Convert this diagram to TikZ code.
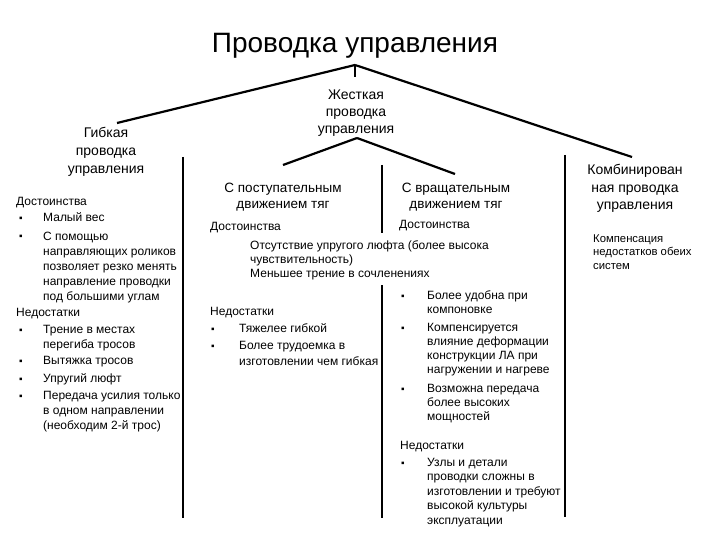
\documentclass[tikz,border=0pt]{standalone}
\usepackage{fontspec}
\setmainfont{Liberation Sans}
\begin{document}
\begin{tikzpicture}[x=1pt,y=-1pt,
  conn/.style={line width=2.2pt, black},
  head/.style={anchor=base, inner sep=0pt, align=center, font=\fontsize{14}{17}\selectfont},
  body/.style={anchor=base west, inner sep=0pt, align=left, font=\fontsize{12}{15}\selectfont},
  small/.style={anchor=base west, inner sep=0pt, align=left, font=\fontsize{11.3}{13.5}\selectfont},
  bul/.style={anchor=base west, inner sep=0pt, font=\fontsize{10}{12}\selectfont}]
\useasboundingbox (0,0) rectangle (720,540);
\fill[white] (0,0) rectangle (720,540);

% title
\node[anchor=base, inner sep=0pt, font=\fontsize{28}{32}\selectfont] (title) at (355,53) {Проводка управления};

% tree coordinates
\coordinate (apex) at (355,65);
\coordinate (gEnd) at (117,123);
\coordinate (kEnd) at (632,157);
\coordinate (zhTop) at (355,77);
\coordinate (apex2) at (357,138);
\coordinate (pEnd) at (283,165);
\coordinate (vEnd) at (455,174);

% headings (anchor base = baseline of last line)
\node[head, font=\fontsize{14}{18}\selectfont] (gib) at (106,174) {Гибкая\\проводка\\управления};
\node[head] (zh) at (356,134) {Жесткая\\проводка\\управления};
\node[head, font=\fontsize{13.5}{16.5}\selectfont] (post) at (283,208.5) {С поступательным\\движением тяг};
\node[head, font=\fontsize{13.5}{16.5}\selectfont] (vrash) at (456,208.5) {С вращательным\\движением тяг};
\node[head, font=\fontsize{14}{17.5}\selectfont] (komb) at (635,210) {Комбинирован\\ная проводка\\управления};

% connectors
\draw[conn] (apex) -- (gEnd);
\draw[conn] (apex) -- (kEnd);
\draw[conn] (apex) -- (zhTop);
\draw[conn] (apex2) -- (pEnd);
\draw[conn] (apex2) -- (vEnd);

% column separators
\coordinate (s1a) at (183,157); \coordinate (s1b) at (183,518);
\coordinate (s2a) at (382,165); \coordinate (s2b) at (382,233);
\coordinate (s3a) at (382,285); \coordinate (s3b) at (382,518);
\coordinate (s4a) at (565,155); \coordinate (s4b) at (565,517);
\draw[conn] (s1a) -- (s1b);
\draw[conn] (s2a) -- (s2b);
\draw[conn] (s3a) -- (s3b);
\draw[conn] (s4a) -- (s4b);

% left column
\node[body] (l0) at (16,206) {Достоинства};
\node[bul] (lb1) at (19,222) {▪};
\node[body] (l1) at (43,222) {Малый вес};
\node[bul] (lb2) at (19,240) {▪};
\node[body] (l2) at (43,300) {С помощью\\направляющих роликов\\позволяет резко менять\\направление проводки\\под большими углам};
\node[body] (l3) at (16,316) {Недостатки};
\node[bul] (lb4) at (19,333) {▪};
\node[body] (l4) at (43,348) {Трение в местах\\перегиба тросов};
\node[bul] (lb5) at (19,364) {▪};
\node[body] (l5) at (43,364) {Вытяжка тросов};
\node[bul] (lb6) at (19,382) {▪};
\node[body] (l6) at (43,382) {Упругий люфт};
\node[bul] (lb7) at (19,399) {▪};
\node[body] (l7) at (43,429) {Передача усилия только\\в одном направлении\\(необходим 2-й трос)};

% middle-left column
\node[body] (m0) at (210,230) {Достоинства};
\node[body, font=\fontsize{12}{14}\selectfont] (m1) at (250,277) {Отсутствие упругого люфта (более высока\\чувствительность)\\Меньшее трение в сочленениях};
\node[body] (m2) at (210,315) {Недостатки};
\node[bul] (mb3) at (211,332) {▪};
\node[body] (m3) at (239,332) {Тяжелее гибкой};
\node[bul] (mb4) at (211,349) {▪};
\node[body, font=\fontsize{12}{16.5}\selectfont] (m4) at (239,365.5) {Более трудоемка в\\изготовлении чем гибкая};

% middle-right column
\node[body] (r0) at (399,229) {Достоинства};
\node[bul] (rb1) at (401,299) {▪};
\node[body, font=\fontsize{12}{14}\selectfont] (r1) at (427,313) {Более удобна при\\компоновке};
\node[bul] (rb2) at (401,331) {▪};
\node[body, font=\fontsize{12}{14.2}\selectfont] (r2) at (427,373.6) {Компенсируется\\влияние деформации\\конструкции ЛА при\\нагружении и нагреве};
\node[bul] (rb3) at (401,392) {▪};
\node[body, font=\fontsize{12}{14}\selectfont] (r3) at (427,420) {Возможна передача\\более высоких\\мощностей};
\node[body] (r4) at (400,449) {Недостатки};
\node[bul] (rb5) at (401,466) {▪};
\node[body, font=\fontsize{12}{14.5}\selectfont] (r5) at (427,524) {Узлы и детали\\проводки сложны в\\изготовлении и требуют\\высокой культуры\\эксплуатации};

% right column
\node[small] (k1) at (593,269) {Компенсация\\недостатков обеих\\систем};
\end{tikzpicture}
\end{document}
